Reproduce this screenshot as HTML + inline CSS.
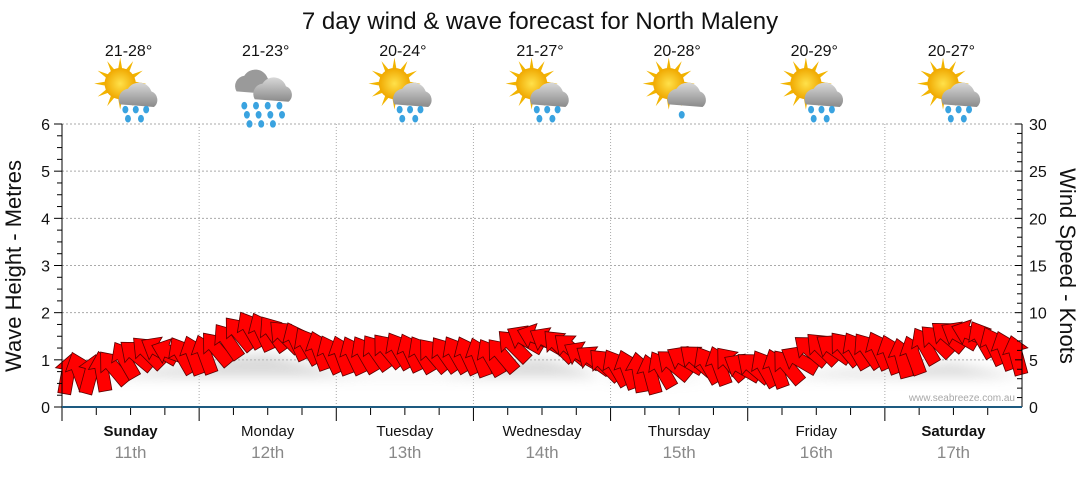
<!DOCTYPE html>
<html><head><meta charset="utf-8"><style>
body{margin:0;background:#fff;font-family:"Liberation Sans",sans-serif}
svg text{font-family:"Liberation Sans",sans-serif}
</style></head><body>
<svg width="1080" height="475" viewBox="0 0 1080 475">
<defs>
<filter id="blur" x="-10%" y="-50%" width="120%" height="200%"><feGaussianBlur stdDeviation="6"/></filter>
<radialGradient id="sun" cx="0.5" cy="0.5" r="0.5"><stop offset="0" stop-color="#ffe14a"/><stop offset="1" stop-color="#f0a800"/></radialGradient>
<linearGradient id="cloud" x1="0" y1="0" x2="0" y2="1"><stop offset="0" stop-color="#d8d8d8"/><stop offset="1" stop-color="#8a8a8a"/></linearGradient>
</defs>
<text x="540" y="29" text-anchor="middle" font-size="24" fill="#111">7 day wind &amp; wave forecast for North Maleny</text>
<g id="grid"></g>
<g id="icons"></g>
<g id="waves"></g>
<g id="arrows"></g>
<g id="axes"></g>
<text x="1015" y="401" text-anchor="end" font-size="10" fill="#a8a8a8">www.seabreeze.com.au</text>
<text transform="translate(21,266) rotate(-90)" text-anchor="middle" font-size="22" fill="#111">Wave Height - Metres</text>
<text transform="translate(1060,266) rotate(90)" text-anchor="middle" font-size="22" fill="#111">Wind Speed - Knots</text>
</svg>
<script>
const days=["Sunday","Monday","Tuesday","Wednesday","Thursday","Friday","Saturday"];
const dates=["11th","12th","13th","14th","15th","16th","17th"];
const temps=["21-28°","21-23°","20-24°","21-27°","20-28°","20-29°","20-27°"];
const iconTypes=["sunrain","rain","sunrain","sunrain","suncloud","sunrain","sunrain"];
const waveTicks=[0,1,2,3,4,5,6];
const windTicks=[0,5,10,15,20,25,30];
// wind speed (knots), every 2 hours
const windSpeed=[3.5,3.8,3.5,3.8,4.2,5,5.5,5.8,6,5.8,5.5,5.5,
5.6,6.2,7,7.8,8.2,8,7.8,7.5,7,6.5,6,5.6,
5.5,5.5,5.6,5.8,6,6,5.8,5.6,5.5,5.6,5.6,5.5,
5.3,5.3,5.5,6.5,7.2,7.4,7,6.5,6.2,5.5,5,4.5,
4.2,4,3.7,3.5,4,4.5,5,5,4.5,4.4,4.6,4.2,
4.2,4.1,4.1,4.3,5,6,6.2,6.2,6.2,6,6,6,
5.6,5.2,5.5,6.5,7,7.5,7.6,7.8,7.2,6.5,6,5.5];
// arrow heading (deg, 0 = up)
const windDir=[10,-20,15,-10,-40,-30,-50,-45,-60,-70,-30,-20,
-20,-40,-35,-40,-30,-25,-35,-45,-25,-30,-20,-25,
-20,-25,-30,-35,-40,-30,-25,-30,-40,-35,-30,-25,
-20,-30,-40,-45,-60,-70,-60,-45,-50,-60,-55,-45,
-30,-20,-10,-15,-30,-50,-60,-50,-30,-20,-40,-60,
-50,-30,-20,-40,-60,-50,-45,-55,-40,-30,-35,-25,
-20,-15,-20,-30,-45,-50,-60,-70,-30,-25,-20,-15];
// wave height (metres), every 6 hours
const waveHeight=[0.75,0.8,0.9,1.0, 1.05,1.25,1.3,1.1, 0.9,0.85,0.85,0.85, 0.95,1.15,1.2,1.0, 0.75,0.7,0.75,0.8, 0.8,0.8,0.9,0.95, 0.95,1.05,1.1,0.95];
const NS="http://www.w3.org/2000/svg";
const X0=62,X1=1022,Y0=407,YT=124;
const xH=h=>X0+h/168*(X1-X0);
const yM=m=>Y0-m/6*(Y0-YT);
const yK=k=>Y0-k/30*(Y0-YT);
function el(t,a,p){const e=document.createElementNS(NS,t);for(const k in a)e.setAttribute(k,a[k]);p.appendChild(e);return e;}
const grid=document.getElementById('grid'),axes=document.getElementById('axes');
waveTicks.forEach(v=>{if(v>0){const l=el('line',{x1:X0,x2:X1,y1:yM(v),y2:yM(v),stroke:'#aaa','stroke-dasharray':'2,2'},grid);

}
const t=el('text',{x:50,y:yM(v)+6,'text-anchor':'end','font-size':16,fill:'#111'},axes);t.textContent=v;

});
windTicks.forEach(v=>{const t=el('text',{x:1029,y:yK(v)+6,'font-size':16,fill:'#111'},axes);t.textContent=v;

});
for(let m=0;m<=24;m++){const y=Y0-m*(Y0-YT)/24;el('line',{x1:m%4==0?54:57,x2:X0,y1:y,y2:y,stroke:'#000'},axes);}
for(let k=0;k<=30;k++){const y=yK(k);el('line',{x1:X1-(k%5==0?7:5),x2:X1,y1:y,y2:y,stroke:'#000'},axes);}
el('line',{x1:X0,x2:X0,y1:YT,y2:Y0,stroke:'#000'},axes);
el('line',{x1:X1,x2:X1,y1:YT,y2:Y0,stroke:'#000'},axes);
for(let d=0;d<7;d++){
 if(d>0){const l=el('line',{x1:xH(d*24),x2:xH(d*24),y1:YT,y2:Y0,stroke:'#aaa','stroke-dasharray':'1,2'},grid);
 
 }
 for(let q=0;q<4;q++){const x=xH(d*24+q*6);el('line',{x1:x,x2:x,y1:Y0,y2:Y0+(q==0?14:8),stroke:'#000'},axes);}
 const cx=xH(d*24+12);
 const dn=el('text',{x:cx,y:436,'text-anchor':'middle','font-size':15,fill:'#111','font-weight':(d==0||d==6)?'bold':'normal'},axes);dn.textContent=days[d];
 
 
 const dt=el('text',{x:cx,y:458,'text-anchor':'middle','font-size':17,fill:'#888'},axes);dt.textContent=dates[d];
 
 
 const tt=el('text',{x:cx-2,y:56,'text-anchor':'middle','font-size':16,fill:'#111'},axes);tt.textContent=temps[d];
 
 
 drawIcon(cx,94,iconTypes[d]);
}
el('line',{x1:X0,x2:X1,y1:Y0,y2:Y0,stroke:'#1d5a80','stroke-width':2},axes);
function drawIcon(cx,cy,type){
 const g=el('g',{transform:`translate(${cx},${cy}) scale(1.3)`},document.getElementById('icons'));
 
 
 if(type!="rain"){
  for(let i=0;i<12;i++){const a=i*30*Math.PI/180;el('polygon',{points:`${-8+Math.cos(a-0.15)*11},${-8+Math.sin(a-0.15)*11} ${-8+Math.cos(a)*20},${-8+Math.sin(a)*20} ${-8+Math.cos(a+0.15)*11},${-8+Math.sin(a+0.15)*11}`,fill:'#f2b400'},g);}
  el('circle',{cx:-8,cy:-8,r:12,fill:'url(#sun)'},g);
  el('path',{d:'M-8,8 a8,8 0 0 1 6,-12 a10,10 0 0 1 18,2 a7,7 0 0 1 2,12 z',fill:'url(#cloud)'},g);
 } else {
  el('path',{d:'M-24,-2 a8,8 0 0 1 6,-12 a10,10 0 0 1 18,2 a7,7 0 0 1 2,12 z',fill:'#9a9a9a'},g);
  el('path',{d:'M-10,4 a8,8 0 0 1 6,-12 a10,10 0 0 1 18,2 a7,7 0 0 1 2,12 z',fill:'url(#cloud)'},g);
 }
 const drops=type=="rain"?[[-18,9],[-9,9],[0,9],[9,9],[-16,16],[-7,16],[2,16],[11,16],[-14,23],[-5,23],[4,23]]:type=="sunrain"?[[-4,12],[4,12],[12,12],[-2,19],[8,19]]:[[2,16]];
 drops.forEach(p=>el('ellipse',{cx:p[0],cy:p[1],rx:2.3,ry:2.9,fill:'#3aa3e0'},g));
}
// wave shadow
let pts=waveHeight.map((v,i)=>[xH(i*6),yM(v)+8]);
let d='M'+pts.map(p=>p[0].toFixed(1)+','+p[1].toFixed(1)).join(' L')+` L${X1},${Y0-30} L${X0},${Y0-30} Z`;
const wp=el('path',{d:d,fill:'#bbb',opacity:0.55,filter:'url(#blur)'},document.getElementById('waves'));


// arrows
const ag=document.getElementById('arrows');
windSpeed.forEach((s,i)=>{
 const x=xH(i*2+1),y=yK(s);
 const p=el('polygon',{points:'0,-20 13,-4 6.5,-4 6.5,20 -6.5,20 -6.5,-4 -13,-4',fill:'#f00',stroke:'#5a0000','stroke-width':0.8,transform:`translate(${x.toFixed(1)},${y.toFixed(1)}) rotate(${windDir[i]})`},ag);
 
 
});
</script>
</body></html>
